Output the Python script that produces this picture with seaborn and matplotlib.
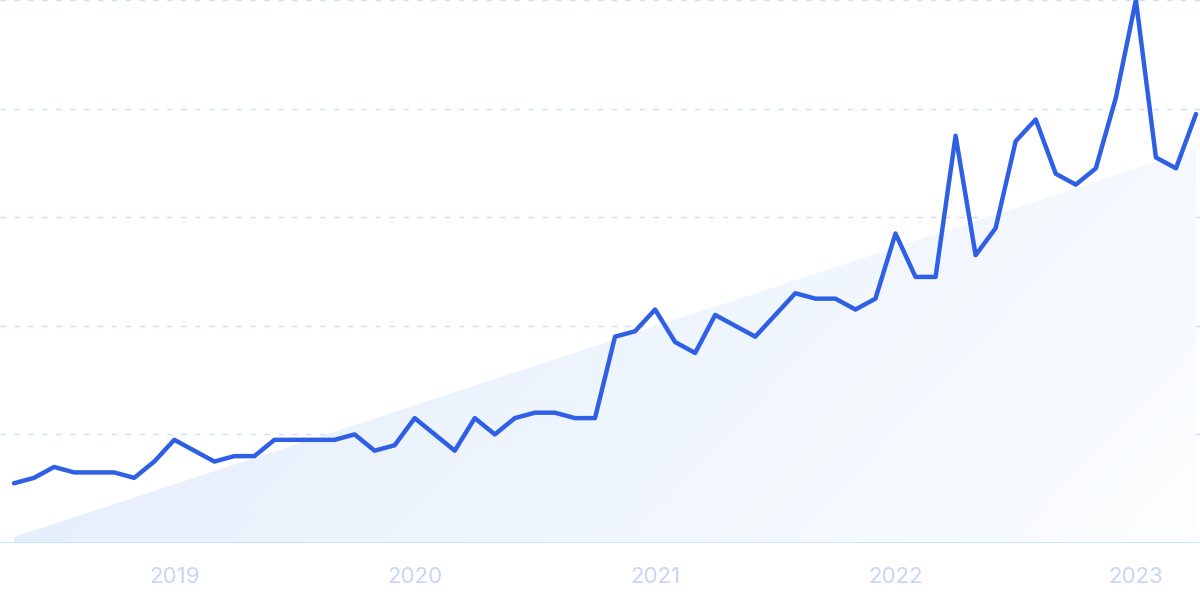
import numpy as np
import pandas as pd
import seaborn as sns
import matplotlib.pyplot as plt
from matplotlib.colors import to_rgb

# monthly values, May 2018 - Apr 2023
months = pd.date_range("2018-05-01", periods=60, freq="MS")
values = [11, 12, 14, 13, 13, 13, 12, 15, 19, 17,
          15, 16, 16, 19, 19, 19, 19, 20, 17, 18,
          23, 20, 17, 23, 20, 23, 24, 24, 23, 23,
          38, 39, 43, 37, 35, 42, 40, 38, 42, 46,
          45, 45, 43, 45, 57, 49, 49, 75, 53, 58,
          74, 78, 68, 66, 69, 82, 100, 71, 69, 79]
year_labels = ["2019", "2020", "2021", "2022", "2023"]

df = pd.DataFrame({"idx": np.arange(len(values)), "value": values, "month": months})

sns.set_theme(style="white")
plt.rcParams["font.family"] = ["Inter", "DejaVu Sans"]

fig = plt.figure(figsize=(12, 6), dpi=100)
ax = fig.add_axes([0, 57 / 600, 1, 543 / 600])

# trend area (linear fit of the series)
slope, intercept = np.polyfit(df["idx"], df["value"], 1)
x_trend = np.array([0, len(values) - 1])
y_trend = intercept + slope * x_trend
poly = ax.fill_between(x_trend, 0, y_trend, color="none", lw=0)

# diagonal gradient, bluish at left to white at right
nx, ny = 300, 100
gx, gy = np.meshgrid(np.linspace(0, 1, nx), np.linspace(0, 1, ny))
t = np.clip(0.8 * gx + 0.25 * (1 - gy), 0, 1)
c0 = np.array(to_rgb("#dfebfb"))
c1 = np.array(to_rgb("#fbfdff"))
grad = c0[None, None, :] * (1 - t[..., None]) + c1[None, None, :] * t[..., None]
im = ax.imshow(grad, extent=[x_trend[0], x_trend[1], 0, y_trend.max()],
               origin="lower", aspect="auto", zorder=1)
for path in poly.get_paths():
    im.set_clip_path(path, transform=ax.transData)

# gridlines
for g in [20, 40, 60, 80, 100]:
    ax.axhline(g, color="#cfdffb", lw=1, dashes=(4, 6), zorder=0)
ax.axhline(0, color="#bfe3fb", lw=1.2, zorder=2)

sns.lineplot(data=df, x="idx", y="value", color="#2f5fe4", lw=3.2, ax=ax, zorder=3)

ax.set_xlim(-0.7, 59.2)
ax.set_ylim(0, 100)
ax.set_xticks([8, 20, 32, 44, 56])
ax.set_xticklabels(year_labels)
ax.set_yticks([])
ax.tick_params(axis="x", length=0, pad=17, labelsize=16, labelcolor="#c8d5f4")
ax.set_xlabel("")
ax.set_ylabel("")
for s in ax.spines.values():
    s.set_visible(False)

fig.savefig("out.png", dpi=100)
